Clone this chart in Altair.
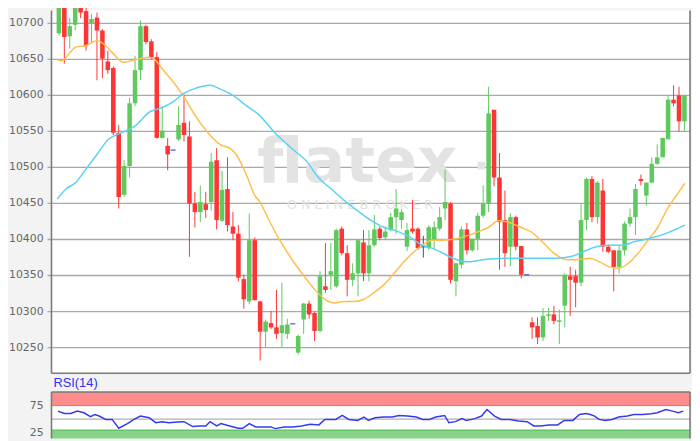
import altair as alt
import pandas as pd

# ---------------- data ----------------
opens = [10686, 10722, 10682, 10698, 10735, 10717, 10700, 10708, 10690, 10647,
         10638, 10548, 10462, 10502, 10589, 10635, 10696, 10675, 10653, 10541,
         10530, 10524, 10539, 10562, 10543, 10450, 10438, 10449, 10452, 10510,
         10426, 10470, 10418, 10408, 10345, 10314, 10399, 10314, 10272, 10284,
         10278, 10270, 10269, 10283, 10243, 10289, 10311, 10298, 10273, 10335,
         10351, 10335, 10415, 10381, 10344, 10353, 10396, 10353, 10392, 10415,
         10403, 10413, 10431, 10427, 10390, 10415, 10415, 10390, 10388, 10399,
         10415, 10443, 10450, 10342, 10365, 10414, 10385, 10401, 10433, 10450,
         10580, 10486, 10427, 10390, 10431, 10391, 10351, 10285, 10280, 10264,
         10294, 10296, 10286, 10308, 10349, 10349, 10340, 10427, 10484, 10431,
         10468, 10390, 10385, 10362, 10385, 10422, 10431, 10484, 10461, 10479,
         10505, 10514, 10539, 10594, 10600, 10564]
highs = [10735, 10730, 10708, 10740, 10740, 10722, 10713, 10715, 10692, 10662,
         10640, 10559, 10510, 10597, 10655, 10704, 10698, 10678, 10660, 10585,
         10541, 10524, 10585, 10601, 10564, 10466, 10475, 10466, 10520, 10527,
         10495, 10514, 10438, 10420, 10351, 10436, 10403, 10315, 10289, 10301,
         10330, 10340, 10290, 10283, 10268, 10312, 10315, 10300, 10356, 10395,
         10395, 10415, 10418, 10392, 10367, 10400, 10413, 10413, 10434, 10418,
         10418, 10437, 10470, 10442, 10423, 10455, 10417, 10405, 10420, 10425,
         10445, 10497, 10452, 10367, 10418, 10423, 10401, 10437, 10475, 10612,
         10580, 10520, 10468, 10436, 10433, 10391, 10351, 10292, 10292, 10305,
         10305, 10308, 10303, 10353, 10362, 10358, 10450, 10486, 10488, 10481,
         10484, 10393, 10385, 10392, 10425, 10443, 10477, 10490, 10479, 10514,
         10532, 10541, 10599, 10614, 10612, 10600]
lows = [10683, 10644, 10665, 10690, 10707, 10662, 10674, 10621, 10624, 10630,
        10545, 10443, 10459, 10486, 10585, 10621, 10671, 10650, 10540, 10540,
        10496, 10524, 10537, 10536, 10376, 10417, 10424, 10430, 10440, 10414,
        10424, 10411, 10399, 10342, 10304, 10310, 10315, 10232, 10250, 10276,
        10262, 10250, 10262, 10283, 10240, 10269, 10290, 10259, 10271, 10326,
        10330, 10333, 10378, 10321, 10335, 10321, 10342, 10342, 10390, 10399,
        10399, 10411, 10408, 10415, 10384, 10408, 10386, 10375, 10385, 10387,
        10412, 10427, 10339, 10321, 10360, 10379, 10383, 10385, 10430, 10438,
        10474, 10358, 10362, 10363, 10385, 10346, 10351, 10262, 10255, 10259,
        10287, 10282, 10255, 10278, 10294, 10306, 10335, 10413, 10424, 10422,
        10383, 10381, 10328, 10353, 10378, 10418, 10406, 10475, 10447, 10478,
        10503, 10514, 10539, 10585, 10550, 10550]
closes = [10730, 10681, 10696, 10730, 10715, 10669, 10706, 10690, 10651, 10635,
          10548, 10459, 10502, 10589, 10635, 10696, 10674, 10653, 10541, 10551,
          10518, 10524, 10559, 10545, 10450, 10438, 10452, 10441, 10508, 10427,
          10469, 10420, 10408, 10347, 10317, 10399, 10316, 10272, 10286, 10278,
          10269, 10281, 10282, 10283, 10266, 10311, 10296, 10273, 10349, 10330,
          10356, 10413, 10381, 10344, 10353, 10399, 10353, 10392, 10414, 10402,
          10411, 10431, 10443, 10438, 10413, 10411, 10388, 10390, 10417, 10417,
          10431, 10452, 10344, 10367, 10414, 10385, 10401, 10433, 10450, 10575,
          10486, 10424, 10381, 10431, 10390, 10351, 10351, 10278, 10264, 10294,
          10296, 10287, 10288, 10351, 10344, 10340, 10427, 10484, 10431, 10479,
          10390, 10383, 10362, 10385, 10422, 10431, 10470, 10481, 10479, 10505,
          10514, 10541, 10594, 10589, 10564, 10600]

# moving averages (candle index, price)
ma_fast = [(-0.2, 10649), (0.45, 10648), (3.1, 10667), (4.9, 10669), (7.0, 10676),
           (8.1, 10672), (10.0, 10658), (11.8, 10646), (13.9, 10649), (16.5, 10653),
           (17.4, 10651), (19.2, 10635), (21.0, 10619), (23.0, 10598), (24.8, 10575),
           (27.2, 10550), (29.6, 10532), (31.7, 10525), (32.6, 10518), (34.4, 10491),
           (36.2, 10459), (36.8, 10454), (38.6, 10427), (40.6, 10399), (42.7, 10374),
           (45.1, 10349), (47.1, 10330), (48.9, 10317), (50.7, 10312), (52.5, 10314),
           (54.3, 10314), (56.1, 10317), (57.9, 10326), (59.7, 10337), (61.4, 10351),
           (63.2, 10367), (65.0, 10381), (66.8, 10392), (68.6, 10399), (70.6, 10399),
           (73.0, 10401), (75.4, 10406), (77.2, 10411), (79.0, 10417), (80.8, 10426),
           (82.6, 10424), (84.9, 10417), (87.3, 10408), (89.1, 10395), (91.0, 10381),
           (93.4, 10372), (95.2, 10372), (97.6, 10374), (99.4, 10369), (101.2, 10362),
           (102.9, 10360), (104.7, 10367), (106.5, 10381), (108.3, 10399), (110.1, 10417),
           (111.9, 10443), (113.7, 10463), (115.1, 10478)]
ma_slow = [(-0.3, 10456), (1.3, 10470), (3.1, 10479), (4.9, 10497), (7.0, 10518),
           (9.1, 10539), (11.5, 10548), (13.9, 10557), (16.9, 10578), (18.6, 10582),
           (21.0, 10591), (22.8, 10602), (24.8, 10609), (27.8, 10614), (29.6, 10609),
           (32.0, 10600), (34.4, 10586), (36.8, 10573), (39.7, 10548), (42.7, 10527),
           (45.7, 10507), (47.7, 10486), (50.1, 10470), (52.5, 10454), (54.9, 10440),
           (57.3, 10427), (59.7, 10417), (62.0, 10412), (64.4, 10404), (66.8, 10392),
           (68.6, 10388), (70.6, 10381), (72.4, 10374), (75.4, 10369), (79.0, 10373),
           (82.6, 10374), (86.1, 10374), (91.5, 10374), (94.0, 10376), (96.4, 10383),
           (98.8, 10390), (101.2, 10392), (103.5, 10392), (105.9, 10397), (108.3, 10401),
           (110.7, 10406), (113.1, 10413), (115.1, 10420)]
# RSI(14) (candle index, value)
rsi = [(-0.17, 64.9), (1.0, 60.5), (2.2, 60.5), (3.4, 64.9), (4.6, 61.8), (5.8, 54.5),
       (6.6, 58.7), (7.4, 55.8), (8.6, 49.6), (9.8, 49.6), (11.0, 33.3), (12.6, 41.8),
       (13.8, 49.6), (15.0, 55.8), (16.6, 52.7), (17.8, 43.6), (19.0, 45.5), (20.2, 43.6),
       (21.8, 44.9), (23.0, 45.5), (24.6, 36.4), (25.8, 37.6), (27.0, 37.6), (27.8, 45.5),
       (29.0, 37.6), (29.8, 41.8), (31.4, 37.6), (33.0, 33.3), (33.8, 33.3), (35.0, 41.8),
       (36.2, 35.8), (37.4, 35.8), (39.0, 35.8), (39.8, 32.7), (41.4, 35.8), (43.0, 35.8),
       (44.6, 37.6), (46.2, 40.5), (47.8, 39.5), (48.9, 49.6), (50.9, 49.6), (52.1, 56.9),
       (53.3, 49.6), (54.9, 47.8), (56.1, 54.0), (56.9, 47.8), (58.1, 52.7), (59.7, 54.0),
       (61.3, 54.0), (62.5, 56.9), (64.1, 55.8), (65.7, 54.0), (66.9, 49.6), (68.1, 49.6),
       (69.3, 54.0), (70.9, 56.9), (71.7, 43.6), (72.9, 45.5), (74.1, 51.0), (74.9, 47.8),
       (76.5, 51.0), (77.7, 55.8), (78.7, 67.8), (80.1, 55.8), (81.3, 49.6), (82.9, 49.6),
       (84.5, 46.7), (86.1, 45.5), (87.3, 37.6), (88.5, 37.6), (90.1, 39.5), (91.7, 39.5),
       (92.9, 47.8), (94.5, 47.8), (95.7, 58.7), (96.9, 60.5), (97.7, 58.7), (98.5, 55.8),
       (99.3, 49.6), (100.4, 47.8), (101.7, 49.6), (102.9, 54.0), (104.5, 55.8), (105.7, 58.7),
       (107.3, 58.7), (108.9, 60.0), (110.0, 61.8), (111.6, 67.8), (112.8, 64.9), (113.9, 62.0),
       (114.8, 64.9)]

price_ticks = [10250, 10300, 10350, 10400, 10450, 10500, 10550, 10600, 10650, 10700]
rsi_ticks = [75, 25]
rsi_label = ["RSI(14)"]

# ---------------- layout ----------------
W = 646          # plot width
H = 433          # whole drawing height
PLOT_H = 367     # bottom of price panel
X_DOM = [-0.45, 115.12]
P_DOM = [10123.8, 10717.8]
R_DOM = [14.5, 801.8]

xs = alt.Scale(domain=X_DOM, nice=False, zero=False)
ps = alt.Scale(domain=P_DOM, nice=False, zero=False)
rs = alt.Scale(domain=R_DOM, nice=False, zero=False)

FONT = "DejaVu Sans"
GRID = "#a9a9a9"
BORDER = "#7a7a7a"

cd = pd.DataFrame({"i": list(range(len(opens))), "o": opens, "h": highs,
                   "l": lows, "c": closes})
cd["dir"] = ["up" if c > o else ("down" if c < o else "doji")
             for o, c in zip(opens, closes)]
fast_df = pd.DataFrame(ma_fast, columns=["i", "v"])
slow_df = pd.DataFrame(ma_slow, columns=["i", "v"])
rsi_df = pd.DataFrame(rsi, columns=["i", "v"])
pt_df = pd.DataFrame({"v": price_ticks})
rt_df = pd.DataFrame({"v": rsi_ticks})
one = pd.DataFrame({"t": rsi_label})

col = alt.Color("dir:N", legend=None,
                scale=alt.Scale(domain=["up", "down", "doji"],
                                range=["#5fc85f", "#ff3535", "#3c3cd0"]))

bg_main = alt.Chart(one).mark_rect(color="white").encode(
    x=alt.value(0), x2=alt.value(W), y=alt.value(0), y2=alt.value(PLOT_H))

def rsi_band(lo, hi, color):
    return alt.Chart(pd.DataFrame({"lo": [lo], "hi": [hi]})).mark_rect(color=color).encode(
        x=alt.value(0), x2=alt.value(W),
        y=alt.Y("lo:Q", scale=rs, axis=None), y2="hi:Q")

def rsi_rule(v, color, w=1.0):
    return alt.Chart(pd.DataFrame({"v": [v]})).mark_rule(color=color, strokeWidth=w).encode(
        x=alt.value(0), x2=alt.value(W), y=alt.Y("v:Q", scale=rs, axis=None))

bg_rsi = rsi_band(R_DOM[0], 100, "white")
ob = rsi_band(75, 100, "#ff8c8c")
os_ = rsi_band(R_DOM[0], 30, "#86d486")
ob_line = rsi_rule(75, "#e46a6a")
os_line = rsi_rule(30, "#4fb64f")
mid_line = rsi_rule(50, "#b0b0b0", 1.2)
rsi_top = rsi_rule(100, BORDER, 1.5)

grid = alt.Chart(pt_df).mark_rule(color=GRID, strokeWidth=1.3).encode(
    x=alt.value(-4), x2=alt.value(W), y=alt.Y("v:Q", scale=ps, axis=None))

wm1 = alt.Chart(one).mark_text(text="flatex", font=FONT, fontWeight="bold", fontSize=63,
                               color="#e3e3e3", align="left", baseline="alphabetic").encode(
    x=alt.value(208), y=alt.value(174))
wm_dot = alt.Chart(one).mark_point(shape="square", filled=True, size=60, opacity=1,
                                   color="#e3e3e3").encode(x=alt.value(435), y=alt.value(157))
wm2 = alt.Chart(one).mark_text(text="O N L I N E     B R O K E R", font=FONT, fontSize=13,
                               color="#e2e2e2", align="left", baseline="middle").encode(
    x=alt.value(238), y=alt.value(197))

wicks = alt.Chart(cd).mark_rule(strokeWidth=1).encode(
    x=alt.X("i:Q", scale=xs, axis=None),
    y=alt.Y("l:Q", scale=ps, axis=None), y2="h:Q", color=col)
bodies = alt.Chart(cd).mark_bar(size=4.6).encode(
    x=alt.X("i:Q", scale=xs, axis=None),
    y=alt.Y("o:Q", scale=ps, axis=None), y2="c:Q", color=col)
dojis = alt.Chart(cd).transform_filter(alt.datum.dir == "doji").mark_tick(
    orient="horizontal", size=5, thickness=1.6).encode(
    x=alt.X("i:Q", scale=xs, axis=None),
    y=alt.Y("o:Q", scale=ps, axis=None), color=col)

fast = alt.Chart(fast_df).mark_line(color="#ffbf4a", strokeWidth=1.5, interpolate="monotone").encode(
    x=alt.X("i:Q", scale=xs, axis=None), y=alt.Y("v:Q", scale=ps, axis=None))
slow = alt.Chart(slow_df).mark_line(color="#5ad2f4", strokeWidth=1.5, interpolate="monotone").encode(
    x=alt.X("i:Q", scale=xs, axis=None), y=alt.Y("v:Q", scale=ps, axis=None))
rsi_line = alt.Chart(rsi_df).mark_line(color="#3838ee", strokeWidth=1.5).encode(
    x=alt.X("i:Q", scale=xs, axis=None), y=alt.Y("v:Q", scale=rs, axis=None))

b_left = alt.Chart(one).mark_rule(color=BORDER, strokeWidth=1.6).encode(
    x=alt.value(0), y=alt.value(0), y2=alt.value(PLOT_H))
b_bottom = alt.Chart(one).mark_rule(color=BORDER, strokeWidth=1.6).encode(
    x=alt.value(0), x2=alt.value(W), y=alt.value(PLOT_H))
b_right = alt.Chart(one).mark_rule(color=BORDER, strokeWidth=1.6).encode(
    x=alt.value(W), y=alt.value(0), y2=alt.value(PLOT_H))
r_left = alt.Chart(pd.DataFrame({"a": [100], "b": [R_DOM[0]]})).mark_rule(
    color=BORDER, strokeWidth=1.6).encode(
    x=alt.value(0), y=alt.Y("a:Q", scale=rs, axis=None), y2="b:Q")
r_right = alt.Chart(pd.DataFrame({"a": [100], "b": [R_DOM[0]]})).mark_rule(
    color=BORDER, strokeWidth=1.6).encode(
    x=alt.value(W), y=alt.Y("a:Q", scale=rs, axis=None), y2="b:Q")

p_labels = alt.Chart(pt_df).mark_text(font=FONT, fontSize=11, color="#666666",
                                      align="right", baseline="middle").encode(
    x=alt.value(-8), y=alt.Y("v:Q", scale=ps, axis=None), text=alt.Text("v:Q", format="d"))
r_labels = alt.Chart(rt_df).mark_text(font=FONT, fontSize=11, color="#666666",
                                      align="right", baseline="middle").encode(
    x=alt.value(-8), y=alt.Y("v:Q", scale=rs, axis=None), text=alt.Text("v:Q", format="d"))
r_title = alt.Chart(one).mark_text(font="Liberation Sans", fontSize=13, color="#2f2ff5",
                                   align="left", baseline="middle").encode(
    x=alt.value(2), y=alt.value(377), text="t:N")

chart = alt.layer(
    bg_main, bg_rsi, ob, os_, ob_line, os_line, mid_line,
    grid, wm1, wm_dot, wm2,
    wicks, bodies, dojis, fast, slow, rsi_line,
    b_left, b_bottom, b_right, r_left, r_right, rsi_top,
    p_labels, r_labels, r_title,
).resolve_scale(y="independent").properties(
    width=W, height=H,
    padding={"left": 44, "top": 0, "right": 2, "bottom": 0},
    autosize=alt.AutoSizeParams(type="none"),
    background="#f3f3f3",
).configure_view(strokeWidth=0)

chart.save("out.html", embed_options={"renderer": "svg", "actions": False})
